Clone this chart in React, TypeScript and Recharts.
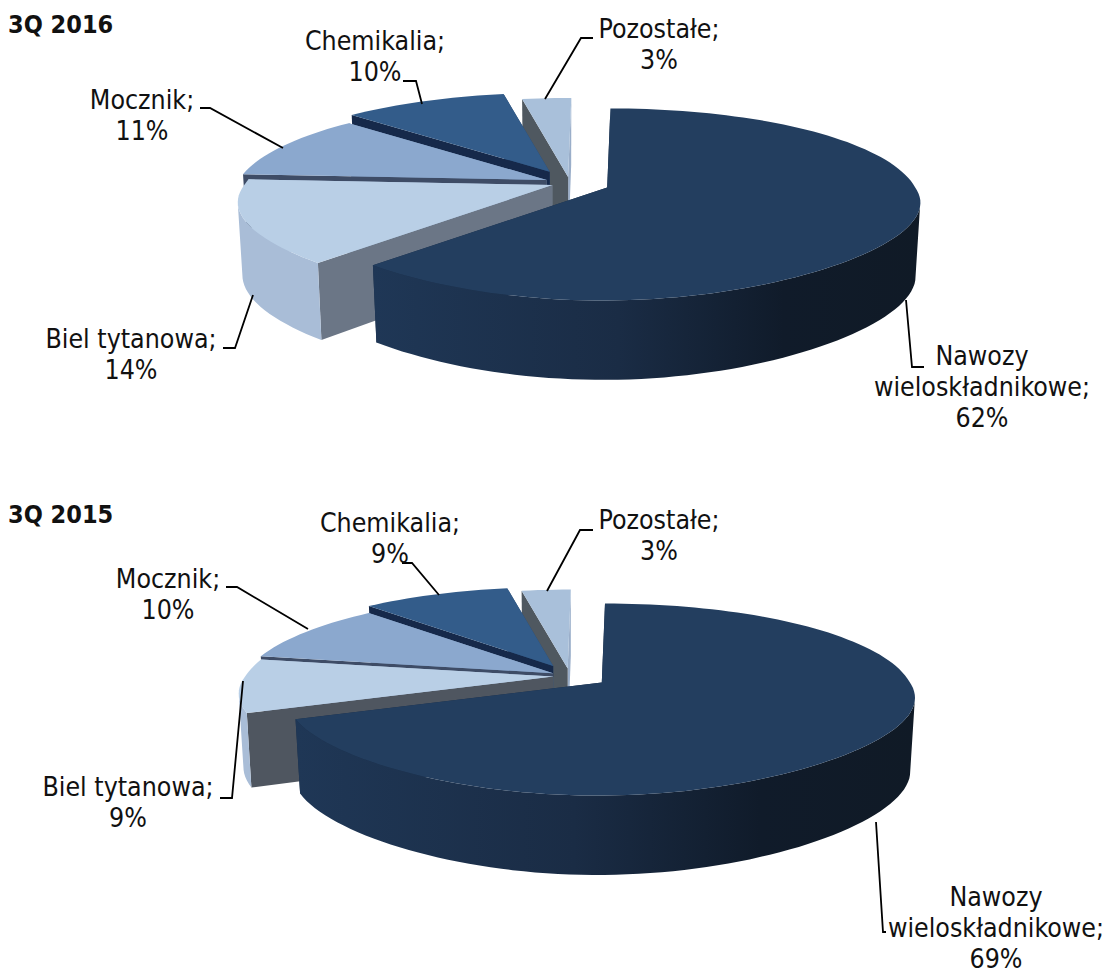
import { PieChart, Pie } from 'recharts';

// slices run back to front, so later ones paint over earlier ones
const CATEGORIES = ['Pozostałe', 'Chemikalia', 'Mocznik', 'Biel tytanowa', 'Nawozy\nwieloskładnikowe'];
const VALUES_2016 = [3, 10, 11, 14, 62];
const VALUES_2015 = [3, 9, 10, 9, 69];

const FONT = '"DejaVu Sans Condensed", "DejaVu Sans", sans-serif';
const RADIUS = 308;
const TILT = 0.302;
const PERSPECTIVE = 0.177;
const SHEAR = 0.04;
const DEPTH = 72;

const topFills = ['#a9c0da', '#335c8a', '#8ba8ce', '#b9cfe6', '#233e5f'];
const sideFills = ['#9aaec9', '#2a4a70', '#7c96b8', '#a9bdd7', '#1a2c45'];

// explosion per slice (fraction of the radius), label anchors and leader lines
const layout2016 = {
  cx: 570,
  cy: 183,
  explode: [0.065, 0.137, 0.082, 0.062, 0.13],
  cutFills: ['#4f5860', '#16294a', '#3e4c66', '#6b7686', '#1a2c45'],
  labelX: [659, 375, 142, 131, 982],
  labelY: [29, 41, 100, 339, 356],
  leaders: [
    'M545 99L581 38H593',
    'M422 104L416 81H403',
    'M283 148L210 108H200',
    'M253 295L235 348H223',
    'M906 300L912 367H924',
  ],
};

const layout2015 = {
  cx: 570,
  cy: 191,
  explode: [0.08, 0.12, 0.063, 0.055, 0.125],
  cutFills: ['#4f5860', '#16294a', '#3e4c66', '#4f5660', '#1a2c45'],
  labelX: [659, 390, 168, 128, 996],
  labelY: [35, 38, 94, 302, 412],
  leaders: [
    'M547 106L580 45H593',
    'M439 110L412 78H402',
    'M308 144L237 102H226',
    'M243 196L232 313H220',
    'M876 337L883 447H886',
  ],
};

type Layout = typeof layout2016;

const arcPoint = (ox: number, oy: number, r: number, deg: number) => {
  const rad = (deg * Math.PI) / 180;
  const lean = -Math.sin(rad);
  const w = 1 / (1 - PERSPECTIVE * lean);
  // the near half widens less than plain perspective would give
  const wx = lean > 0 ? 1 + 0.22 * lean - 0.12 * lean * lean : w;
  const y = oy + r * TILT * lean * w;
  return {
    x: ox + r * Math.cos(rad) * wx + SHEAR * (oy - y),
    y,
    w,
    front: lean > PERSPECTIVE,
  };
};

const toPath = (pts: { x: number; y: number }[]) =>
  'M' + pts.map((p) => `${p.x.toFixed(1)} ${p.y.toFixed(1)}`).join('L') + 'Z';

const SliceShape = (props: any, layout: Layout, id: string) => {
  const { cx, cy, outerRadius, startAngle, endAngle, midAngle, slot } = props;
  const rad = (midAngle * Math.PI) / 180;
  const e = layout.explode[slot] * outerRadius;
  const ox = cx + e * Math.cos(rad);
  const oy = cy - e * TILT * Math.sin(rad);

  const apex = { x: ox, y: oy, w: 1, front: false };
  const rim = [];
  const steps = Math.max(2, Math.ceil(Math.abs(endAngle - startAngle) / 2));
  for (let i = 0; i <= steps; i++) {
    rim.push(arcPoint(ox, oy, outerRadius, startAngle + ((endAngle - startAngle) * i) / steps));
  }
  const drop = (p: { x: number; y: number; w: number }) => ({
    x: ox + (p.x - ox) * 0.985,
    y: p.y + DEPTH * Math.sqrt(p.w),
  });
  const first = rim[0];
  const last = rim[rim.length - 1];
  const startWall = [apex, first, drop(first), drop(apex)];
  const endWall = [apex, last, drop(last), drop(apex)];
  const frontRim = rim.filter((p) => p.front);
  const isMain = slot === 4;

  return (
    <g>
      <defs>
        <linearGradient id={`${id}-rim`} x1="0" y1="0" x2="1" y2="0">
          <stop offset="0%" stopColor="#1f3756" />
          <stop offset="45%" stopColor="#1a2c45" />
          <stop offset="75%" stopColor="#101b2a" />
          <stop offset="100%" stopColor="#101a26" />
        </linearGradient>
      </defs>
      <path d={toPath(startWall)} fill={sideFills[slot]} />
      <path d={toPath(endWall)} fill={layout.cutFills[slot]} />
      {frontRim.length > 1 && (
        <path
          d={toPath([...frontRim, ...frontRim.map(drop).reverse()])}
          fill={isMain ? `url(#${id}-rim)` : sideFills[slot]}
        />
      )}
      <path d={toPath([apex, ...rim])} fill={topFills[slot]} />
    </g>
  );
};

const SliceLabel = (props: any, layout: Layout) => {
  const i = props.index;
  const lines = [...`${CATEGORIES[i]};`.split('\n'), `${props.value}%`];
  return (
    <g>
      <path d={layout.leaders[i]} fill="none" stroke="#000" strokeWidth={1.8} />
      <text textAnchor="middle" fontFamily={FONT} fontSize={26.5} fill="#111">
        {lines.map((line, n) => (
          <tspan key={n} x={layout.labelX[i]} y={layout.labelY[i] + 9 + n * 31}>
            {line}
          </tspan>
        ))}
      </text>
    </g>
  );
};

const Chart = ({ values, layout, id }: { values: number[]; layout: Layout; id: string }) => {
  const rows = CATEGORIES.map((name, slot) => ({ name, value: values[slot], slot }));
  return (
    <PieChart width={1107} height={484} margin={{ top: 0, right: 0, bottom: 0, left: 0 }}>
      <Pie
        data={rows}
        dataKey="value"
        nameKey="name"
        cx={layout.cx}
        cy={layout.cy}
        innerRadius={0}
        outerRadius={RADIUS}
        startAngle={90}
        endAngle={450}
        stroke="none"
        labelLine={false}
        label={(p: any) => SliceLabel(p, layout)}
        shape={(p: any) => SliceShape(p, layout, id)}
        isAnimationActive={false}
      />
    </PieChart>
  );
};

const titleStyle = {
  position: 'absolute' as const,
  left: 8,
  fontFamily: FONT,
  fontWeight: 700,
  fontSize: 25,
  color: '#111',
  lineHeight: '26px',
};

export default function App() {
  return (
    <div style={{ position: 'absolute', left: 0, top: 0, width: 1107, height: 969, background: '#fff' }}>
      <div style={{ position: 'absolute', left: 0, top: 0 }}>
        <Chart values={VALUES_2016} layout={layout2016} id="y2016" />
      </div>
      <div style={{ position: 'absolute', left: 0, top: 485 }}>
        <Chart values={VALUES_2015} layout={layout2015} id="y2015" />
      </div>
      <div style={{ ...titleStyle, top: 12 }}>3Q 2016</div>
      <div style={{ ...titleStyle, top: 502 }}>3Q 2015</div>
    </div>
  );
}
